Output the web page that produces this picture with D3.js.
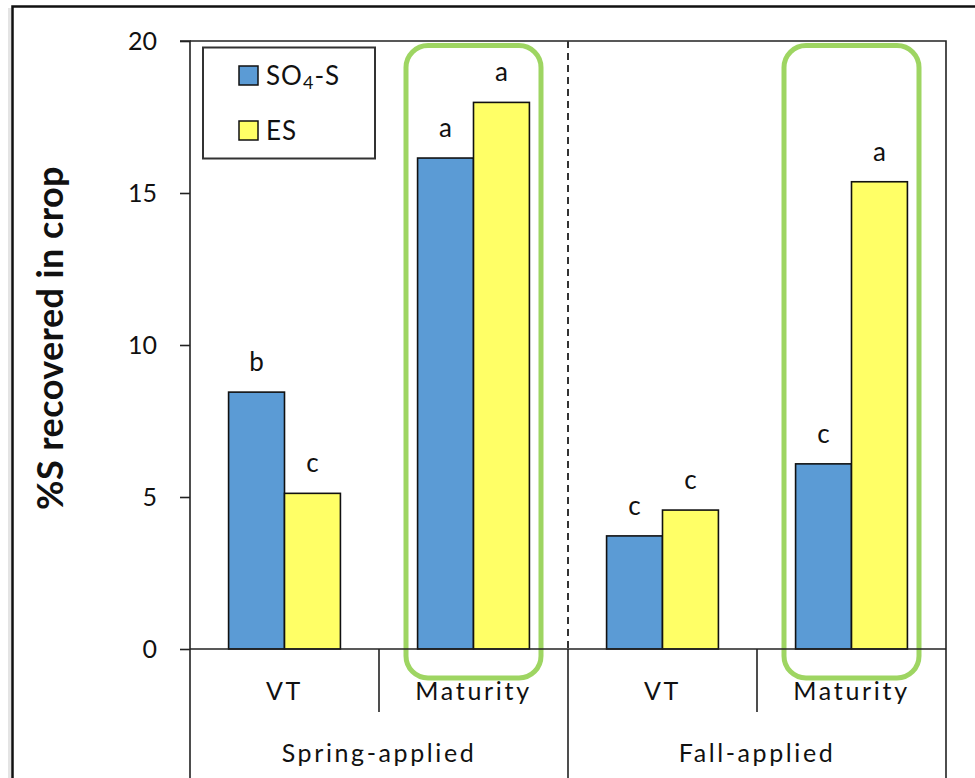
<!DOCTYPE html>
<html>
<head>
<meta charset="utf-8">
<script src="https://cdn.jsdelivr.net/npm/d3@7"></script>
<style>
  html, body { margin: 0; padding: 0; background: #fff; }
  svg { display: block; }
  text { font-family: Lato, "Noto Sans", sans-serif; fill: #111; }
</style>
</head>
<body>
<svg id="chart" width="975" height="778"></svg>
<script>
// Sulfur recovery in the crop, by application time and growth stage
const applications = ["Spring-applied", "Fall-applied"];
const stages = ["VT", "Maturity"];
const seriesNames = ["SO4-S", "ES"];
const so4Values = [8.45, 16.15, 3.72, 6.09];
const esValues = [5.12, 17.98, 4.57, 15.37];
const so4Letters = ["b", "a", "c", "c"];
const esLetters = ["c", "a", "c", "a"];
const highlighted = ["Spring-applied|Maturity", "Fall-applied|Maturity"];
const yTicks = [0, 5, 10, 15, 20];

const colors = { "SO4-S": "#5B9BD5", "ES": "#FFFF66" };
const green = "#9ED562";
const ink = "#222";

// Build the grouped table from the arrays above
const groups = [];
applications.forEach(app => stages.forEach(st => groups.push({ app, stage: st, key: app + "|" + st })));
groups.forEach((g, i) => {
  g.bars = [
    { series: "SO4-S", value: so4Values[i], letter: so4Letters[i] },
    { series: "ES", value: esValues[i], letter: esLetters[i] }
  ];
});

const svg = d3.select("#chart");
const plot = { left: 190, right: 946, top: 41, bottom: 649 };

const x0 = d3.scaleBand().domain(groups.map(g => g.key)).range([plot.left, plot.right]).padding(0);
const x1 = d3.scaleBand().domain(seriesNames).range([0, x0.bandwidth()]).paddingInner(0).paddingOuter(0.69);
const xApp = d3.scaleBand().domain(applications).range([plot.left, plot.right]).padding(0);
const y = d3.scaleLinear().domain([0, 20]).range([plot.bottom, plot.top]);

// Outer frame of the figure
svg.append("path")
  .attr("d", `M12.5,${778} L12.5,6.5 L${975},6.5`)
  .attr("fill", "none").attr("stroke", "#111").attr("stroke-width", 2.5);
svg.append("line").attr("x1", 9.5).attr("x2", 9.5).attr("y1", 8).attr("y2", 778)
  .attr("stroke", "#e4e4e4").attr("stroke-width", 3);

// Plot box: top and right sides
svg.append("path")
  .attr("d", `M${plot.left},${plot.top} L${plot.right},${plot.top} L${plot.right},778`)
  .attr("fill", "none").attr("stroke", ink).attr("stroke-width", 1.6);

// Y axis
const yAxis = d3.axisLeft(y).tickValues(yTicks).tickSize(10).tickPadding(23).tickFormat(d3.format("d"));
const yg = svg.append("g").attr("transform", `translate(${plot.left},0)`).call(yAxis);
yg.select(".domain").attr("stroke", ink).attr("stroke-width", 1.6).attr("d", `M-10,${plot.top}H0V778`);
yg.selectAll(".tick line").attr("stroke", ink).attr("stroke-width", 1.6);
yg.selectAll(".tick text").attr("font-size", 25).attr("font-family", "Lato, sans-serif").attr("fill", "#111");

// Y axis title
svg.append("text")
  .attr("transform", `translate(63,338) rotate(-90)`)
  .attr("text-anchor", "middle")
  .attr("font-size", 36).attr("font-weight", "bold").attr("letter-spacing", 0.4)
  .text("%S recovered in crop");

// Dashed separator between application times
svg.append("line")
  .attr("x1", xApp("Fall-applied")).attr("x2", xApp("Fall-applied"))
  .attr("y1", plot.top).attr("y2", plot.bottom)
  .attr("stroke", "#333").attr("stroke-width", 2).attr("stroke-dasharray", "7,5");

// Highlight boxes around the maturity groups
const hlInset = 27;
svg.selectAll("rect.hl").data(highlighted).join("rect")
  .attr("class", "hl")
  .attr("x", d => x0(d) + hlInset)
  .attr("width", x0.bandwidth() - 2 * hlInset)
  .attr("y", y(20) + 4.5)
  .attr("height", y(0) + 29 - (y(20) + 4.5))
  .attr("rx", 22).attr("ry", 22)
  .attr("fill", "none").attr("stroke", green).attr("stroke-width", 5);

// Bars
const gSel = svg.selectAll("g.grp").data(groups).join("g")
  .attr("class", "grp").attr("transform", d => `translate(${x0(d.key)},0)`);
gSel.selectAll("rect.bar").data(d => d.bars).join("rect")
  .attr("class", "bar")
  .attr("x", d => x1(d.series))
  .attr("width", x1.bandwidth())
  .attr("y", d => y(d.value))
  .attr("height", d => y(0) - y(d.value))
  .attr("fill", d => colors[d.series])
  .attr("stroke", "#111").attr("stroke-width", 1.6);

// Significance letters
gSel.selectAll("text.letter").data(d => d.bars).join("text")
  .attr("class", "letter")
  .attr("x", d => x1(d.series) + x1.bandwidth() / 2)
  .attr("y", d => y(d.value) - 21)
  .attr("text-anchor", "middle")
  .attr("font-size", 26)
  .text(d => d.letter);

// Baseline
svg.append("line").attr("x1", plot.left).attr("x2", plot.right)
  .attr("y1", plot.bottom).attr("y2", plot.bottom)
  .attr("stroke", ink).attr("stroke-width", 1.6);

// Category axis: stage dividers and application dividers
svg.selectAll("line.stageDiv").data(groups.filter(g => g.stage === "Maturity")).join("line")
  .attr("class", "stageDiv")
  .attr("x1", d => x0(d.key)).attr("x2", d => x0(d.key))
  .attr("y1", plot.bottom).attr("y2", 712)
  .attr("stroke", ink).attr("stroke-width", 1.6);
svg.append("line")
  .attr("x1", xApp("Fall-applied")).attr("x2", xApp("Fall-applied"))
  .attr("y1", plot.bottom).attr("y2", 778)
  .attr("stroke", ink).attr("stroke-width", 1.6);

svg.selectAll("text.stage").data(groups).join("text")
  .attr("class", "stage")
  .attr("x", d => x0(d.key) + x0.bandwidth() / 2)
  .attr("y", 700)
  .attr("text-anchor", "middle")
  .attr("font-size", 25).attr("letter-spacing", 2.7)
  .text(d => d.stage);

svg.selectAll("text.app").data(applications).join("text")
  .attr("class", "app")
  .attr("x", d => xApp(d) + xApp.bandwidth() / 2)
  .attr("y", 762)
  .attr("text-anchor", "middle")
  .attr("font-size", 25).attr("letter-spacing", 2.6)
  .text(d => d);

// Legend
const legend = svg.append("g");
legend.append("rect").attr("x", 203).attr("y", 47.5).attr("width", 172).attr("height", 111)
  .attr("fill", "#fff").attr("stroke", "#333").attr("stroke-width", 2);
const legendRows = legend.selectAll("g.item").data(seriesNames).join("g")
  .attr("class", "item").attr("transform", (d, i) => `translate(239,${66 + i * 55})`);
legendRows.append("rect").attr("width", 19).attr("height", 19)
  .attr("fill", d => colors[d]).attr("stroke", "#111").attr("stroke-width", 1.5);
legendRows.append("text").attr("x", 27).attr("y", 19).attr("font-size", 26).attr("letter-spacing", 1)
  .each(function (d) {
    const t = d3.select(this);
    if (d === "SO4-S") {
      t.append("tspan").text("SO");
      t.append("tspan").attr("font-size", 18).attr("dy", 4).text("4");
      t.append("tspan").attr("dy", -4).text("-S");
    } else {
      t.text(d);
    }
  });
</script>
</body>
</html>
